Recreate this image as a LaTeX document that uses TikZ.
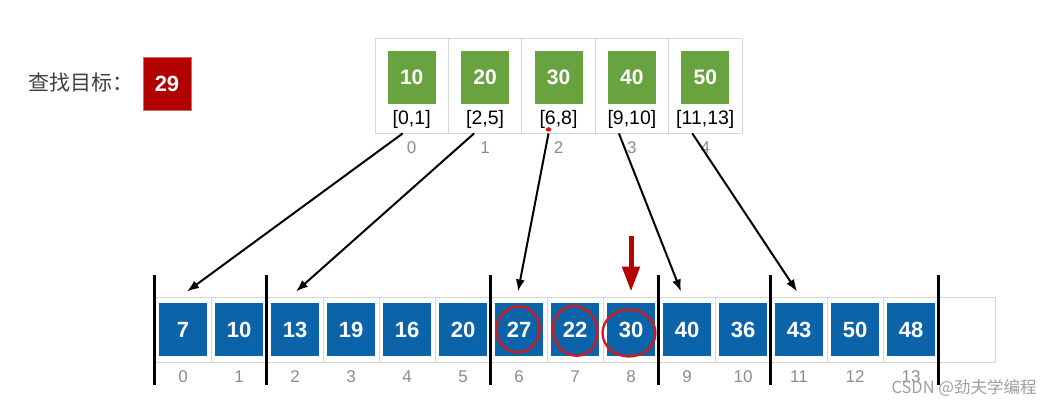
\documentclass[tikz,border=0pt]{standalone}
\usepackage{fontspec}
\setmainfont{Liberation Sans}
\newfontfamily\cjk{Noto Sans CJK SC}
\usetikzlibrary{positioning, arrows.meta, calc}
\definecolor{cellgray}{HTML}{D6D6D6}
\definecolor{boxgreen}{HTML}{69A33F}
\definecolor{boxblue}{HTML}{0B64A9}
\definecolor{targetred}{HTML}{B30000}
\definecolor{markred}{HTML}{D41818}
\definecolor{idxgray}{HTML}{8C8C8C}
\definecolor{titlegray}{HTML}{404040}

\begin{document}
\begin{tikzpicture}[
  x=1pt, y=1pt,
  >={Latex[length=12pt, width=9pt]},
  topcell/.style={draw=cellgray, line width=0.8pt, minimum width=73.4pt,
    minimum height=95pt, inner sep=0pt},
  botcell/.style={draw=cellgray, line width=1pt, minimum width=56pt,
    minimum height=65pt, inner sep=0pt},
  valbox/.style={minimum width=48pt, minimum height=53pt, inner sep=0pt,
    text=white, font=\fontsize{21}{21}\selectfont\bfseries},
  greenbox/.style={valbox, fill=boxgreen},
  bluebox/.style={valbox, fill=boxblue, font=\fontsize{22}{22}\selectfont\bfseries},
  rangelbl/.style={font=\fontsize{19.5}{20}\selectfont, inner sep=0pt},
  idx/.style={font=\fontsize{17}{17}\selectfont, text=idxgray, inner sep=0pt},
  arr/.style={->, line width=2pt},
  divider/.style={line width=2.2pt},
  hand/.style={draw=markred, line width=2.3pt}
]
\useasboundingbox (0,0) rectangle (1064,405);

% Search target
\node[font=\cjk\fontsize{21}{21}\selectfont, text=titlegray] (title) at (81,322) {查找目标：};
\node[valbox, fill=targetred, draw=targetred!60!white, line width=0.6pt,
  font=\fontsize{22}{22}\selectfont\bfseries] (target) at (167,321.5) {29};

% Index block
\foreach \v [count=\i from 0] in {10,20,30,40,50} {
  \node[topcell] (tc\i) at (411.7+73.4*\i, 319.5) {};
  \node[greenbox] (tv\i) at (411.7+73.4*\i, 327.5) {\v};
  \node[idx] (ti\i) at (411.7+73.4*\i, 257) {\i};
}
\foreach \r [count=\i from 0] in {{[0,1]},{[2,5]},{[6,8]},{[9,10]},{[11,13]}}
  \node[rangelbl] (tr\i) at (411.7+73.4*\i, 286) {\r};

% Blocks of data
\foreach \j in {0,...,14}
  \node[botcell] (bc\j) at (183+56*\j, 75.5) {};
\foreach \v [count=\j from 0] in {7,10,13,19,16,20,27,22,30,40,36,43,50,48} {
  \node[bluebox] (bv\j) at (183+56*\j, 75.5) {\v};
  \node[idx] (bi\j) at (183+56*\j, 28) {\j};
}
\foreach \k in {0,2,6,9,11,14}
  \draw[divider] ([yshift=22pt]bc\k.north west) -- ([yshift=-22pt]bc\k.south west);

% Index -> block start
\foreach \i/\s/\j/\o in {0/-9/0/4, 1/-11/2/1, 2/-10/6/-1, 3/-13/9/-6, 4/-13/11/-2}
  \draw[arr] ([xshift=\s pt]tc\i.south) -- ([xshift=\o pt, yshift=5pt]bc\j.north);
\fill[markred] ([xshift=-10pt, yshift=4pt]tc2.south) ellipse (2.8pt and 2.2pt);

% Pointer and marks
\coordinate (ptr) at ([yshift=61pt]bc8.north);
\draw[targetred, line width=5pt, -{Triangle[length=25pt, width=17pt]}]
  (ptr) -- ([yshift=5pt]bc8.north);
\draw[hand, rotate around={-10:(bv6.center)}] ([xshift=-1pt]bv6.center) ellipse (21.5pt and 23pt);
\draw[hand, rotate around={15:(bv7.center)}] ([yshift=-1.5pt]bv7.center) ellipse (22pt and 25pt);
\draw[hand] ([xshift=-2pt, yshift=-3.5pt]bv8.center) ellipse (26.5pt and 23.5pt);

% Watermark
\node[font=\cjk\fontsize{16.5}{17}\selectfont, text=black!38] (mark) at (964,17) {CSDN @劲夫学编程};
\end{tikzpicture}
\end{document}
